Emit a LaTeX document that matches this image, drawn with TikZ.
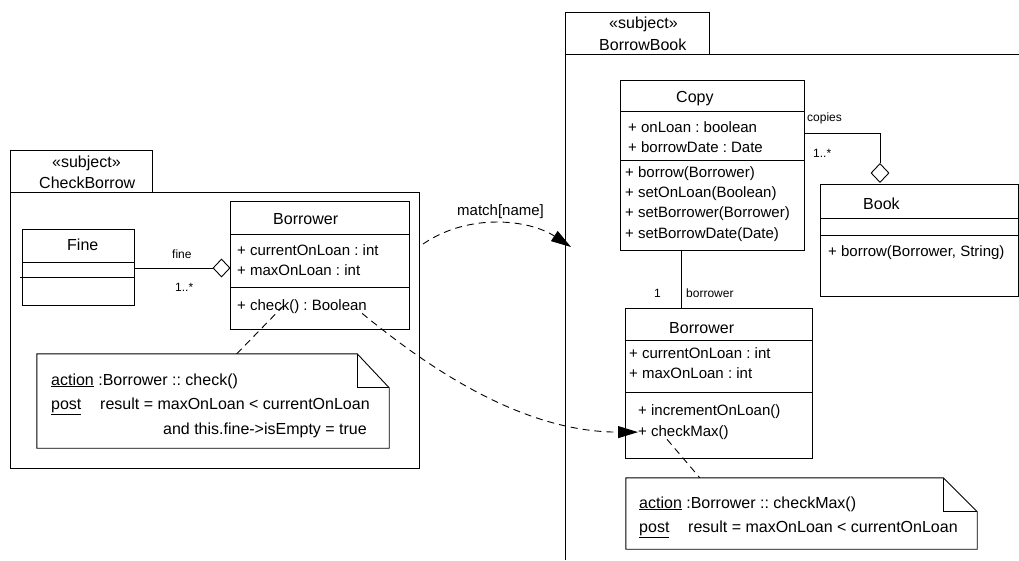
\documentclass[tikz,border=0pt]{standalone}
\usepackage{fontspec}
\setmainfont{Liberation Sans}
\usetikzlibrary{arrows.meta,shapes.geometric}
\begin{document}
\frenchspacing
\begin{tikzpicture}[x=1pt,y=-1pt,
    cls/.style={draw,line width=0.9pt,inner sep=0pt},
    dia/.style={draw,diamond,fill=white,line width=0.9pt,inner sep=0pt,
        minimum width=17pt,minimum height=18pt},
    nm/.style={anchor=base west,inner sep=0pt,font=\fontsize{16}{18}\selectfont},
    mem/.style={anchor=base west,inner sep=0pt,font=\fontsize{15}{17}\selectfont},
    role/.style={anchor=base west,inner sep=0pt,font=\fontsize{12}{14}\selectfont},
    ntxt/.style={anchor=base west,inner sep=0pt,font=\fontsize{16}{18}\selectfont},
    dsh/.style={line width=0.9pt,dash pattern=on 7pt off 5pt},
    tri/.style={-{Triangle[length=20pt,width=12pt]}}]
\useasboundingbox (0,0) rectangle (1019,560);

% left subject
\draw[line width=0.9pt] (10,192) rectangle (152,150);
\node[cls,minimum width=409pt,minimum height=276pt] (lpkg) at (214.5,330) {};
\node[nm] (lst) at (52,167) {«subject»};
\node[nm] (lsn) at (39,188) {CheckBorrow};

% right subject
\draw[line width=0.9pt] (565,54) rectangle (709,12);
\draw[line width=0.9pt] (565,560) -- (565,54) -- (1019,54);
\node[nm] (rst) at (609,28) {«subject»};
\node[nm] (rsn) at (599,50) {BorrowBook};

% Fine
\node[cls,minimum width=112pt,minimum height=76pt] (fine) at (78,267) {};
\draw[line width=0.9pt] (22,262) -- (134,262);
\draw[line width=0.9pt] (20,277) -- (134,277);
\node[nm] (finen) at (67,250) {Fine};

% Borrower (left)
\node[cls,minimum width=179pt,minimum height=128pt] (lbor) at (319.5,265) {};
\draw[line width=0.9pt] (230,234) -- (409,234);
\draw[line width=0.9pt] (230,287) -- (409,287);
\node[nm] (lborn) at (273,224) {Borrower};
\node[mem] (lcur) at (237,255) {+ currentOnLoan : int};
\node[mem] (lmax) at (237,275) {+ maxOnLoan : int};
\node[mem] (chk) at (237,310) {+ check() : Boolean};

% fine aggregation
\node[dia] (agg1) at (221.5,268) {};
\draw[line width=0.9pt] (fine.east |- agg1) -- (agg1.west);
\node[role] (finer) at (172,258) {fine};
\node[role] (finem) at (175,291) {1..*};

% note (left)
\node[minimum width=352pt,minimum height=94pt,inner sep=0pt] (lnote) at (213,401) {};
\draw[line width=0.9pt] (lnote.south west) |- ([xshift=-32pt]lnote.north east)
    -- ([yshift=-34pt]lnote.north east) -- (lnote.south east) -- cycle;
\draw[line width=0.9pt] ([xshift=-32pt]lnote.north east) |- ([yshift=-34pt]lnote.north east);
\node[ntxt] (la1) at (51,385) {\underline{action} :Borrower :: check()};
\node[ntxt] (la2) at (51,409) {\underline{post}};
\node[ntxt] (la3) at (100,409) {result = maxOnLoan < currentOnLoan};
\node[ntxt,anchor=base east] (la4) at (367,434) {and this.fine->isEmpty = true};
\draw[dsh] ([xshift=200pt]lnote.north west) -- ([xshift=46pt,yshift=7pt]chk.south west);

% Copy
\node[cls,minimum width=184pt,minimum height=170pt] (copy) at (712,165) {};
\draw[line width=0.9pt] (620,111) -- (805,111);
\draw[line width=0.9pt] (620,160) -- (805,160);
\node[nm] (copyn) at (676,102) {Copy};
\node[mem] (cp1) at (628,132) {+ onLoan : boolean};
\node[mem] (cp2) at (628,152) {+ borrowDate : Date};
\node[mem] (cp3) at (625,177) {+ borrow(Borrower)};
\node[mem] (cp4) at (625,197) {+ setOnLoan(Boolean)};
\node[mem] (cp5) at (625,217) {+ setBorrower(Borrower)};
\node[mem] (cp6) at (625,238) {+ setBorrowDate(Date)};

% Book
\node[cls,minimum width=198pt,minimum height=112pt] (book) at (919,240) {};
\draw[line width=0.9pt] (820,218) -- (1018,218);
\draw[line width=0.9pt] (820,235) -- (1018,235);
\node[nm] (bookn) at (863,209) {Book};
\node[mem] (bk1) at (828,256) {+ borrow(Borrower, String)};

% copies aggregation
\node[dia,minimum width=18pt,minimum height=19pt] (agg2) at (880,173) {};
\draw[line width=0.9pt] ([yshift=32pt]copy.east) -| (agg2.north);
\node[role] (copr) at (807,121) {copies};
\node[role] (copm) at (813,157) {1..*};

% Borrower (right)
\node[cls,minimum width=187pt,minimum height=150pt] (rbor) at (718.5,383) {};
\draw[line width=0.9pt] (625,340) -- (812,340);
\draw[line width=0.9pt] (625,392) -- (812,392);
\node[nm] (rborn) at (669,333) {Borrower};
\node[mem] (rcur) at (629,358) {+ currentOnLoan : int};
\node[mem] (rmax) at (629,378) {+ maxOnLoan : int};
\node[mem] (rinc) at (638,415) {+ incrementOnLoan()};
\node[mem] (cmx) at (638,436) {+ checkMax()};

% borrower association
\draw[line width=0.9pt] ([xshift=-31pt]copy.south) -- ([xshift=-31pt]copy.south |- rbor.north);
\node[role] (borm) at (654,297) {1};
\node[role] (borr) at (686,297) {borrower};

% note (right)
\node[minimum width=351pt,minimum height=71pt,inner sep=0pt] (rnote) at (801.5,513.5) {};
\draw[line width=0.9pt] (rnote.south west) |- ([xshift=-34pt]rnote.north east)
    -- ([yshift=-34pt]rnote.north east) -- (rnote.south east) -- cycle;
\draw[line width=0.9pt] ([xshift=-34pt]rnote.north east) |- ([yshift=-34pt]rnote.north east);
\node[ntxt] (ra1) at (639,508) {\underline{action} :Borrower :: checkMax()};
\node[ntxt] (ra2) at (639,532) {\underline{post}};
\node[ntxt] (ra3) at (688,532) {result = maxOnLoan < currentOnLoan};
\draw[dsh] ([xshift=29pt]cmx.south west) -- ([xshift=74pt]rnote.north west);

% match arrows
\coordinate (m1) at (423,244);
\coordinate (m2) at (571,247);
\draw[dsh,tri] (m1) .. controls (470,212) and (530,220) .. (m2);
\node[mem] (match) at (457,215) {match[name]};
\draw[dsh,tri] ([xshift=-5pt]chk.south east) .. controls (425,365) and (520,432) .. (cmx.west);

\end{tikzpicture}
\end{document}
